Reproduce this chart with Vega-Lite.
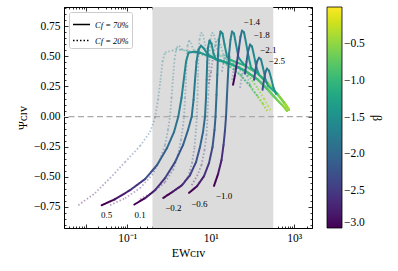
{
"$schema":"https://vega.github.io/schema/vega-lite/v6.json",
"width":248,"height":221,
"autosize":{"type":"none"},
"padding":{"left":64,"top":7,"right":86,"bottom":43},
"config":{"font":"Liberation Serif","view":{"stroke":null},
 "axis":{"grid":false,"domainColor":"black","tickColor":"black","labelColor":"black","titleColor":"black","domainWidth":0.9,"tickWidth":0.8,"labelFontSize":11.5,"titleFontSize":12,"titleFontWeight":"normal","labelFont":"Liberation Serif","titleFont":"Liberation Serif"},
 "legend":{"labelFont":"Liberation Serif","titleFont":"Liberation Serif"}},
"data":{"values":[
{"c":"0.5","f":"70%","x":0.0243,"y":-0.736,"b":-3},{"c":"0.5","f":"70%","x":0.0507,"y":-0.686,"b":-2.8},{"c":"0.5","f":"70%","x":0.116,"y":-0.611,"b":-2.55},{"c":"0.5","f":"70%","x":0.2655,"y":-0.519,"b":-2.3},{"c":"0.5","f":"70%","x":0.515,"y":-0.403,"b":-2.1},{"c":"0.5","f":"70%","x":0.895,"y":-0.261,"b":-1.95},{"c":"0.5","f":"70%","x":1.318,"y":-0.128,"b":-1.85},{"c":"0.5","f":"70%","x":1.671,"y":0,"b":-1.75},{"c":"0.5","f":"70%","x":1.995,"y":0.156,"b":-1.7},{"c":"0.5","f":"70%","x":2.291,"y":0.323,"b":-1.65},{"c":"0.5","f":"70%","x":2.559,"y":0.456,"b":-1.6},{"c":"0.5","f":"70%","x":2.938,"y":0.531,"b":-1.55},{"c":"0.5","f":"70%","x":4.198,"y":0.539,"b":-1.5},{"c":"0.5","f":"70%","x":5.534,"y":0.531,"b":-1.4},{"c":"0.5","f":"70%","x":12.68,"y":0.481,"b":-1.3},{"c":"0.5","f":"70%","x":29.04,"y":0.439,"b":-1.15},{"c":"0.5","f":"70%","x":66.53,"y":0.381,"b":-1.0},{"c":"0.5","f":"70%","x":136.1,"y":0.306,"b":-0.85},{"c":"0.5","f":"70%","x":236.6,"y":0.223,"b":-0.7},{"c":"0.5","f":"70%","x":389,"y":0.139,"b":-0.6},{"c":"0.5","f":"70%","x":542,"y":0.089,"b":-0.5},{"c":"0.5","f":"70%","x":676.1,"y":0.048,"b":-0.45},
{"c":"0.1","f":"70%","x":0.147,"y":-0.73,"b":-3},{"c":"0.1","f":"70%","x":0.2655,"y":-0.678,"b":-2.8},{"c":"0.1","f":"70%","x":0.461,"y":-0.611,"b":-2.6},{"c":"0.1","f":"70%","x":0.802,"y":-0.511,"b":-2.4},{"c":"0.1","f":"70%","x":1.393,"y":-0.378,"b":-2.2},{"c":"0.1","f":"70%","x":2.168,"y":-0.236,"b":-2.05},{"c":"0.1","f":"70%","x":2.858,"y":-0.111,"b":-1.95},{"c":"0.1","f":"70%","x":3.499,"y":0,"b":-1.85},{"c":"0.1","f":"70%","x":3.873,"y":0.139,"b":-1.8},{"c":"0.1","f":"70%","x":4.207,"y":0.306,"b":-1.75},{"c":"0.1","f":"70%","x":4.571,"y":0.456,"b":-1.7},{"c":"0.1","f":"70%","x":5.093,"y":0.556,"b":-1.65},{"c":"0.1","f":"70%","x":5.848,"y":0.589,"b":-1.6},{"c":"0.1","f":"70%","x":6.902,"y":0.564,"b":-1.55},{"c":"0.1","f":"70%","x":8.61,"y":0.514,"b":-1.45},{"c":"0.1","f":"70%","x":12.68,"y":0.481,"b":-1.3},{"c":"0.1","f":"70%","x":29.04,"y":0.439,"b":-1.15},{"c":"0.1","f":"70%","x":66.53,"y":0.381,"b":-1.0},{"c":"0.1","f":"70%","x":136.1,"y":0.306,"b":-0.85},{"c":"0.1","f":"70%","x":236.6,"y":0.223,"b":-0.7},{"c":"0.1","f":"70%","x":389,"y":0.139,"b":-0.6},{"c":"0.1","f":"70%","x":542,"y":0.089,"b":-0.5},{"c":"0.1","f":"70%","x":676.1,"y":0.048,"b":-0.45},
{"c":"-0.2","f":"70%","x":0.729,"y":-0.675,"b":-3},{"c":"-0.2","f":"70%","x":1.18,"y":-0.628,"b":-2.8},{"c":"-0.2","f":"70%","x":2.051,"y":-0.569,"b":-2.6},{"c":"-0.2","f":"70%","x":3.192,"y":-0.486,"b":-2.4},{"c":"-0.2","f":"70%","x":4.436,"y":-0.378,"b":-2.2},{"c":"-0.2","f":"70%","x":5.534,"y":-0.253,"b":-2.05},{"c":"-0.2","f":"70%","x":6.531,"y":-0.128,"b":-1.95},{"c":"-0.2","f":"70%","x":7.295,"y":0,"b":-1.85},{"c":"-0.2","f":"70%","x":7.709,"y":0.156,"b":-1.8},{"c":"-0.2","f":"70%","x":7.98,"y":0.306,"b":-1.75},{"c":"-0.2","f":"70%","x":8.24,"y":0.456,"b":-1.7},{"c":"-0.2","f":"70%","x":8.61,"y":0.573,"b":-1.65},{"c":"-0.2","f":"70%","x":9.354,"y":0.631,"b":-1.6},{"c":"-0.2","f":"70%","x":10.45,"y":0.606,"b":-1.55},{"c":"-0.2","f":"70%","x":11.67,"y":0.523,"b":-1.45},{"c":"-0.2","f":"70%","x":13.4,"y":0.473,"b":-1.35},{"c":"-0.2","f":"70%","x":29.04,"y":0.439,"b":-1.15},{"c":"-0.2","f":"70%","x":66.53,"y":0.381,"b":-1.0},{"c":"-0.2","f":"70%","x":136.1,"y":0.306,"b":-0.85},{"c":"-0.2","f":"70%","x":236.6,"y":0.223,"b":-0.7},{"c":"-0.2","f":"70%","x":389,"y":0.139,"b":-0.6},{"c":"-0.2","f":"70%","x":542,"y":0.089,"b":-0.5},{"c":"-0.2","f":"70%","x":676.1,"y":0.048,"b":-0.45},
{"c":"-0.6","f":"70%","x":3.02,"y":-0.633,"b":-3},{"c":"-0.6","f":"70%","x":4.688,"y":-0.578,"b":-2.8},{"c":"-0.6","f":"70%","x":6.902,"y":-0.494,"b":-2.6},{"c":"-0.6","f":"70%","x":9.099,"y":-0.386,"b":-2.4},{"c":"-0.6","f":"70%","x":11.04,"y":-0.253,"b":-2.2},{"c":"-0.6","f":"70%","x":12.33,"y":-0.111,"b":-2.05},{"c":"-0.6","f":"70%","x":13.03,"y":0,"b":-1.95},{"c":"-0.6","f":"70%","x":13.77,"y":0.181,"b":-1.85},{"c":"-0.6","f":"70%","x":14.39,"y":0.348,"b":-1.8},{"c":"-0.6","f":"70%","x":14.96,"y":0.514,"b":-1.75},{"c":"-0.6","f":"70%","x":15.81,"y":0.639,"b":-1.7},{"c":"-0.6","f":"70%","x":17.18,"y":0.706,"b":-1.65},{"c":"-0.6","f":"70%","x":19.19,"y":0.689,"b":-1.6},{"c":"-0.6","f":"70%","x":21.43,"y":0.598,"b":-1.5},{"c":"-0.6","f":"70%","x":24.6,"y":0.498,"b":-1.4},{"c":"-0.6","f":"70%","x":29.04,"y":0.473,"b":-1.1},{"c":"-0.6","f":"70%","x":66.53,"y":0.423,"b":-0.85},{"c":"-0.6","f":"70%","x":136.1,"y":0.356,"b":-0.65},{"c":"-0.6","f":"70%","x":236.6,"y":0.273,"b":-0.5},{"c":"-0.6","f":"70%","x":411.1,"y":0.181,"b":-0.38},{"c":"-0.6","f":"70%","x":605.3,"y":0.106,"b":-0.3},{"c":"-0.6","f":"70%","x":755.1,"y":0.056,"b":-0.25},
{"c":"-1.0","f":"70%","x":11.99,"y":-0.575,"b":-3},{"c":"-1.0","f":"70%","x":14.96,"y":-0.478,"b":-2.8},{"c":"-1.0","f":"70%","x":18.16,"y":-0.361,"b":-2.6},{"c":"-1.0","f":"70%","x":20.28,"y":-0.236,"b":-2.4},{"c":"-1.0","f":"70%","x":22.03,"y":-0.111,"b":-2.25},{"c":"-1.0","f":"70%","x":23.28,"y":0,"b":-2.1},{"c":"-1.0","f":"70%","x":24.6,"y":0.181,"b":-2.0},{"c":"-1.0","f":"70%","x":26.0,"y":0.348,"b":-1.9},{"c":"-1.0","f":"70%","x":27.48,"y":0.514,"b":-1.8},{"c":"-1.0","f":"70%","x":29.85,"y":0.639,"b":-1.7},{"c":"-1.0","f":"70%","x":32.43,"y":0.706,"b":-1.65},{"c":"-1.0","f":"70%","x":36.22,"y":0.689,"b":-1.6},{"c":"-1.0","f":"70%","x":40.46,"y":0.598,"b":-1.5},{"c":"-1.0","f":"70%","x":46.45,"y":0.489,"b":-1.4},{"c":"-1.0","f":"70%","x":66.53,"y":0.423,"b":-0.9},{"c":"-1.0","f":"70%","x":136.1,"y":0.356,"b":-0.65},{"c":"-1.0","f":"70%","x":236.6,"y":0.273,"b":-0.5},{"c":"-1.0","f":"70%","x":411.1,"y":0.181,"b":-0.38},{"c":"-1.0","f":"70%","x":605.3,"y":0.106,"b":-0.3},{"c":"-1.0","f":"70%","x":755.1,"y":0.056,"b":-0.25},
{"c":"-1.4","f":"70%","x":34.28,"y":0.264,"b":-3},{"c":"-1.4","f":"70%","x":38.28,"y":0.348,"b":-2.7},{"c":"-1.4","f":"70%","x":42.76,"y":0.456,"b":-2.4},{"c":"-1.4","f":"70%","x":47.75,"y":0.573,"b":-2.1},{"c":"-1.4","f":"70%","x":51.88,"y":0.664,"b":-1.9},{"c":"-1.4","f":"70%","x":56.36,"y":0.714,"b":-1.75},{"c":"-1.4","f":"70%","x":62.95,"y":0.698,"b":-1.65},{"c":"-1.4","f":"70%","x":70.31,"y":0.614,"b":-1.55},{"c":"-1.4","f":"70%","x":80.72,"y":0.498,"b":-1.45},{"c":"-1.4","f":"70%","x":92.68,"y":0.406,"b":-1.3},{"c":"-1.4","f":"70%","x":136.1,"y":0.356,"b":-0.7},{"c":"-1.4","f":"70%","x":236.6,"y":0.273,"b":-0.5},{"c":"-1.4","f":"70%","x":411.1,"y":0.181,"b":-0.38},{"c":"-1.4","f":"70%","x":605.3,"y":0.106,"b":-0.3},{"c":"-1.4","f":"70%","x":755.1,"y":0.056,"b":-0.25},
{"c":"-1.8","f":"70%","x":66.53,"y":0.356,"b":-2.3},{"c":"-1.8","f":"70%","x":72.28,"y":0.456,"b":-2.1},{"c":"-1.8","f":"70%","x":78.52,"y":0.539,"b":-1.9},{"c":"-1.8","f":"70%","x":87.7,"y":0.598,"b":-1.75},{"c":"-1.8","f":"70%","x":97.95,"y":0.581,"b":-1.65},{"c":"-1.8","f":"70%","x":109.4,"y":0.506,"b":-1.55},{"c":"-1.8","f":"70%","x":125.3,"y":0.406,"b":-1.4},{"c":"-1.8","f":"70%","x":143.9,"y":0.348,"b":-1.2},{"c":"-1.8","f":"70%","x":236.6,"y":0.273,"b":-0.55},{"c":"-1.8","f":"70%","x":411.1,"y":0.181,"b":-0.4},{"c":"-1.8","f":"70%","x":605.3,"y":0.106,"b":-0.3},{"c":"-1.8","f":"70%","x":755.1,"y":0.056,"b":-0.25},
{"c":"-2.1","f":"70%","x":109.4,"y":0.306,"b":-2.3},{"c":"-2.1","f":"70%","x":118.6,"y":0.389,"b":-2.1},{"c":"-2.1","f":"70%","x":128.8,"y":0.456,"b":-1.9},{"c":"-2.1","f":"70%","x":143.9,"y":0.489,"b":-1.75},{"c":"-2.1","f":"70%","x":160.7,"y":0.473,"b":-1.65},{"c":"-2.1","f":"70%","x":179.5,"y":0.406,"b":-1.55},{"c":"-2.1","f":"70%","x":206.1,"y":0.306,"b":-1.4},{"c":"-2.1","f":"70%","x":236.6,"y":0.256,"b":-1.2},{"c":"-2.1","f":"70%","x":411.1,"y":0.181,"b":-0.45},{"c":"-2.1","f":"70%","x":605.3,"y":0.106,"b":-0.3},{"c":"-2.1","f":"70%","x":755.1,"y":0.056,"b":-0.25},
{"c":"-2.5","f":"70%","x":174.6,"y":0.223,"b":-2.3},{"c":"-2.5","f":"70%","x":189.7,"y":0.306,"b":-2.1},{"c":"-2.5","f":"70%","x":206.1,"y":0.373,"b":-1.9},{"c":"-2.5","f":"70%","x":223.9,"y":0.398,"b":-1.75},{"c":"-2.5","f":"70%","x":250,"y":0.381,"b":-1.65},{"c":"-2.5","f":"70%","x":279.3,"y":0.323,"b":-1.55},{"c":"-2.5","f":"70%","x":320.6,"y":0.239,"b":-1.4},{"c":"-2.5","f":"70%","x":368.1,"y":0.189,"b":-1.2},{"c":"-2.5","f":"70%","x":411.1,"y":0.181,"b":-0.6},{"c":"-2.5","f":"70%","x":605.3,"y":0.106,"b":-0.45},{"c":"-2.5","f":"70%","x":755.1,"y":0.056,"b":-0.35},
{"c":"0.5","f":"20%","x":0.00668,"y":-0.736,"b":-3},{"c":"0.5","f":"20%","x":0.01679,"y":-0.636,"b":-2.8},{"c":"0.5","f":"20%","x":0.03846,"y":-0.511,"b":-2.55},{"c":"0.5","f":"20%","x":0.0881,"y":-0.378,"b":-2.3},{"c":"0.5","f":"20%","x":0.2018,"y":-0.244,"b":-2.1},{"c":"0.5","f":"20%","x":0.3499,"y":-0.128,"b":-1.95},{"c":"0.5","f":"20%","x":0.4613,"y":-0.011,"b":-1.85},{"c":"0.5","f":"20%","x":0.5445,"y":0.139,"b":-1.75},{"c":"0.5","f":"20%","x":0.6252,"y":0.306,"b":-1.7},{"c":"0.5","f":"20%","x":0.6982,"y":0.456,"b":-1.65},{"c":"0.5","f":"20%","x":0.8017,"y":0.531,"b":-1.6},{"c":"0.5","f":"20%","x":1.18,"y":0.548,"b":-1.55},{"c":"0.5","f":"20%","x":1.837,"y":0.556,"b":-1.45},{"c":"0.5","f":"20%","x":4.198,"y":0.531,"b":-1.3},{"c":"0.5","f":"20%","x":9.616,"y":0.498,"b":-1.15},{"c":"0.5","f":"20%","x":16.71,"y":0.464,"b":-1.05},{"c":"0.5","f":"20%","x":29.04,"y":0.414,"b":-0.95},{"c":"0.5","f":"20%","x":50.47,"y":0.348,"b":-0.8},{"c":"0.5","f":"20%","x":87.7,"y":0.256,"b":-0.65},{"c":"0.5","f":"20%","x":136.1,"y":0.164,"b":-0.5},{"c":"0.5","f":"20%","x":179.5,"y":0.106,"b":-0.4},{"c":"0.5","f":"20%","x":223.9,"y":0.048,"b":-0.3},
{"c":"0.1","f":"20%","x":0.03846,"y":-0.736,"b":-3},{"c":"0.1","f":"20%","x":0.0881,"y":-0.678,"b":-2.8},{"c":"0.1","f":"20%","x":0.2018,"y":-0.594,"b":-2.6},{"c":"0.1","f":"20%","x":0.3908,"y":-0.486,"b":-2.4},{"c":"0.1","f":"20%","x":0.6081,"y":-0.361,"b":-2.2},{"c":"0.1","f":"20%","x":0.8017,"y":-0.236,"b":-2.05},{"c":"0.1","f":"20%","x":0.9463,"y":-0.111,"b":-1.95},{"c":"0.1","f":"20%","x":1.057,"y":0,"b":-1.85},{"c":"0.1","f":"20%","x":1.148,"y":0.156,"b":-1.8},{"c":"0.1","f":"20%","x":1.247,"y":0.323,"b":-1.75},{"c":"0.1","f":"20%","x":1.355,"y":0.473,"b":-1.7},{"c":"0.1","f":"20%","x":1.514,"y":0.573,"b":-1.65},{"c":"0.1","f":"20%","x":1.738,"y":0.589,"b":-1.6},{"c":"0.1","f":"20%","x":2.051,"y":0.556,"b":-1.5},{"c":"0.1","f":"20%","x":4.198,"y":0.531,"b":-1.3},{"c":"0.1","f":"20%","x":9.616,"y":0.498,"b":-1.15},{"c":"0.1","f":"20%","x":16.71,"y":0.464,"b":-1.05},{"c":"0.1","f":"20%","x":29.04,"y":0.414,"b":-0.95},{"c":"0.1","f":"20%","x":50.47,"y":0.348,"b":-0.8},{"c":"0.1","f":"20%","x":87.7,"y":0.256,"b":-0.65},{"c":"0.1","f":"20%","x":136.1,"y":0.164,"b":-0.5},{"c":"0.1","f":"20%","x":179.5,"y":0.106,"b":-0.4},{"c":"0.1","f":"20%","x":223.9,"y":0.048,"b":-0.3},
{"c":"-0.2","f":"20%","x":0.2018,"y":-0.686,"b":-3},{"c":"-0.2","f":"20%","x":0.413,"y":-0.628,"b":-2.8},{"c":"-0.2","f":"20%","x":0.8017,"y":-0.544,"b":-2.6},{"c":"-0.2","f":"20%","x":1.247,"y":-0.444,"b":-2.4},{"c":"-0.2","f":"20%","x":1.644,"y":-0.319,"b":-2.2},{"c":"-0.2","f":"20%","x":1.941,"y":-0.194,"b":-2.05},{"c":"-0.2","f":"20%","x":2.168,"y":-0.078,"b":-1.95},{"c":"-0.2","f":"20%","x":2.291,"y":0,"b":-1.9},{"c":"-0.2","f":"20%","x":2.421,"y":0.156,"b":-1.85},{"c":"-0.2","f":"20%","x":2.559,"y":0.323,"b":-1.8},{"c":"-0.2","f":"20%","x":2.673,"y":0.489,"b":-1.75},{"c":"-0.2","f":"20%","x":2.78,"y":0.589,"b":-1.7},{"c":"-0.2","f":"20%","x":3.02,"y":0.631,"b":-1.65},{"c":"-0.2","f":"20%","x":3.373,"y":0.614,"b":-1.6},{"c":"-0.2","f":"20%","x":3.767,"y":0.556,"b":-1.5},{"c":"-0.2","f":"20%","x":9.616,"y":0.498,"b":-1.15},{"c":"-0.2","f":"20%","x":16.71,"y":0.464,"b":-1.05},{"c":"-0.2","f":"20%","x":29.04,"y":0.414,"b":-0.95},{"c":"-0.2","f":"20%","x":50.47,"y":0.348,"b":-0.8},{"c":"-0.2","f":"20%","x":87.7,"y":0.256,"b":-0.65},{"c":"-0.2","f":"20%","x":136.1,"y":0.164,"b":-0.5},{"c":"-0.2","f":"20%","x":179.5,"y":0.106,"b":-0.4},{"c":"-0.2","f":"20%","x":223.9,"y":0.048,"b":-0.3},
{"c":"-0.6","f":"20%","x":0.881,"y":-0.653,"b":-3},{"c":"-0.6","f":"20%","x":1.837,"y":-0.586,"b":-2.8},{"c":"-0.6","f":"20%","x":2.858,"y":-0.503,"b":-2.6},{"c":"-0.6","f":"20%","x":3.565,"y":-0.386,"b":-2.4},{"c":"-0.6","f":"20%","x":4.093,"y":-0.253,"b":-2.2},{"c":"-0.6","f":"20%","x":4.436,"y":-0.111,"b":-2.05},{"c":"-0.6","f":"20%","x":4.645,"y":0,"b":-1.95},{"c":"-0.6","f":"20%","x":4.822,"y":0.181,"b":-1.85},{"c":"-0.6","f":"20%","x":4.955,"y":0.348,"b":-1.8},{"c":"-0.6","f":"20%","x":5.093,"y":0.514,"b":-1.75},{"c":"-0.6","f":"20%","x":5.383,"y":0.639,"b":-1.7},{"c":"-0.6","f":"20%","x":5.848,"y":0.698,"b":-1.65},{"c":"-0.6","f":"20%","x":6.531,"y":0.681,"b":-1.6},{"c":"-0.6","f":"20%","x":7.295,"y":0.598,"b":-1.5},{"c":"-0.6","f":"20%","x":8.61,"y":0.506,"b":-1.4},{"c":"-0.6","f":"20%","x":16.71,"y":0.506,"b":-1.0},{"c":"-0.6","f":"20%","x":29.04,"y":0.464,"b":-0.9},{"c":"-0.6","f":"20%","x":50.47,"y":0.406,"b":-0.75},{"c":"-0.6","f":"20%","x":87.7,"y":0.323,"b":-0.6},{"c":"-0.6","f":"20%","x":136.1,"y":0.231,"b":-0.45},{"c":"-0.6","f":"20%","x":189.7,"y":0.148,"b":-0.35},{"c":"-0.6","f":"20%","x":236.6,"y":0.089,"b":-0.3},{"c":"-0.6","f":"20%","x":279.3,"y":0.039,"b":-0.25},
{"c":"-1.0","f":"20%","x":3.499,"y":-0.569,"b":-3},{"c":"-1.0","f":"20%","x":4.688,"y":-0.494,"b":-2.8},{"c":"-1.0","f":"20%","x":6.012,"y":-0.403,"b":-2.6},{"c":"-1.0","f":"20%","x":7.096,"y":-0.278,"b":-2.4},{"c":"-1.0","f":"20%","x":7.925,"y":-0.153,"b":-2.25},{"c":"-1.0","f":"20%","x":8.375,"y":0,"b":-2.1},{"c":"-1.0","f":"20%","x":8.75,"y":0.181,"b":-2.0},{"c":"-1.0","f":"20%","x":9.099,"y":0.348,"b":-1.9},{"c":"-1.0","f":"20%","x":9.354,"y":0.514,"b":-1.8},{"c":"-1.0","f":"20%","x":9.886,"y":0.639,"b":-1.7},{"c":"-1.0","f":"20%","x":10.74,"y":0.698,"b":-1.65},{"c":"-1.0","f":"20%","x":11.99,"y":0.681,"b":-1.6},{"c":"-1.0","f":"20%","x":13.4,"y":0.598,"b":-1.5},{"c":"-1.0","f":"20%","x":15.38,"y":0.523,"b":-1.4},{"c":"-1.0","f":"20%","x":29.04,"y":0.464,"b":-0.9},{"c":"-1.0","f":"20%","x":50.47,"y":0.406,"b":-0.75},{"c":"-1.0","f":"20%","x":87.7,"y":0.323,"b":-0.6},{"c":"-1.0","f":"20%","x":136.1,"y":0.231,"b":-0.45},{"c":"-1.0","f":"20%","x":189.7,"y":0.148,"b":-0.35},{"c":"-1.0","f":"20%","x":236.6,"y":0.089,"b":-0.3},{"c":"-1.0","f":"20%","x":279.3,"y":0.039,"b":-0.25},
{"c":"-1.4","f":"20%","x":9.099,"y":0.273,"b":-3},{"c":"-1.4","f":"20%","x":10.16,"y":0.373,"b":-2.6},{"c":"-1.4","f":"20%","x":11.35,"y":0.489,"b":-2.2},{"c":"-1.4","f":"20%","x":12.68,"y":0.589,"b":-1.9},{"c":"-1.4","f":"20%","x":14.16,"y":0.639,"b":-1.75},{"c":"-1.4","f":"20%","x":15.81,"y":0.631,"b":-1.65},{"c":"-1.4","f":"20%","x":17.66,"y":0.581,"b":-1.55},{"c":"-1.4","f":"20%","x":20.28,"y":0.514,"b":-1.45},{"c":"-1.4","f":"20%","x":23.28,"y":0.473,"b":-1.3},{"c":"-1.4","f":"20%","x":29.04,"y":0.464,"b":-0.9},{"c":"-1.4","f":"20%","x":50.47,"y":0.406,"b":-0.75},{"c":"-1.4","f":"20%","x":87.7,"y":0.323,"b":-0.6},{"c":"-1.4","f":"20%","x":136.1,"y":0.231,"b":-0.45},{"c":"-1.4","f":"20%","x":189.7,"y":0.148,"b":-0.35},{"c":"-1.4","f":"20%","x":236.6,"y":0.089,"b":-0.3},{"c":"-1.4","f":"20%","x":279.3,"y":0.039,"b":-0.25},
{"c":"-1.8","f":"20%","x":18.66,"y":0.373,"b":-2.3},{"c":"-1.8","f":"20%","x":20.84,"y":0.473,"b":-2.0},{"c":"-1.8","f":"20%","x":23.28,"y":0.523,"b":-1.8},{"c":"-1.8","f":"20%","x":26.0,"y":0.531,"b":-1.7},{"c":"-1.8","f":"20%","x":29.04,"y":0.498,"b":-1.6},{"c":"-1.8","f":"20%","x":33.34,"y":0.431,"b":-1.45},{"c":"-1.8","f":"20%","x":38.28,"y":0.389,"b":-1.3},{"c":"-1.8","f":"20%","x":50.47,"y":0.348,"b":-0.8},{"c":"-1.8","f":"20%","x":87.7,"y":0.256,"b":-0.65},{"c":"-1.8","f":"20%","x":136.1,"y":0.164,"b":-0.5},{"c":"-1.8","f":"20%","x":179.5,"y":0.106,"b":-0.4},{"c":"-1.8","f":"20%","x":223.9,"y":0.048,"b":-0.3},
{"c":"-2.1","f":"20%","x":32.43,"y":0.306,"b":-2.3},{"c":"-2.1","f":"20%","x":35.24,"y":0.389,"b":-2.0},{"c":"-2.1","f":"20%","x":38.28,"y":0.439,"b":-1.8},{"c":"-2.1","f":"20%","x":42.76,"y":0.448,"b":-1.7},{"c":"-2.1","f":"20%","x":47.75,"y":0.414,"b":-1.6},{"c":"-2.1","f":"20%","x":54.83,"y":0.348,"b":-1.45},{"c":"-2.1","f":"20%","x":62.95,"y":0.306,"b":-1.3},{"c":"-2.1","f":"20%","x":87.7,"y":0.256,"b":-0.65},{"c":"-2.1","f":"20%","x":136.1,"y":0.164,"b":-0.5},{"c":"-2.1","f":"20%","x":179.5,"y":0.106,"b":-0.4},{"c":"-2.1","f":"20%","x":223.9,"y":0.048,"b":-0.3},
{"c":"-2.5","f":"20%","x":50.47,"y":0.239,"b":-2.3},{"c":"-2.5","f":"20%","x":54.83,"y":0.323,"b":-2.0},{"c":"-2.5","f":"20%","x":59.57,"y":0.364,"b":-1.8},{"c":"-2.5","f":"20%","x":66.53,"y":0.373,"b":-1.7},{"c":"-2.5","f":"20%","x":74.3,"y":0.339,"b":-1.6},{"c":"-2.5","f":"20%","x":85.31,"y":0.273,"b":-1.45},{"c":"-2.5","f":"20%","x":97.95,"y":0.223,"b":-1.3},{"c":"-2.5","f":"20%","x":136.1,"y":0.164,"b":-0.5},{"c":"-2.5","f":"20%","x":179.5,"y":0.106,"b":-0.4},{"c":"-2.5","f":"20%","x":223.9,"y":0.048,"b":-0.3}
]},
"layer":[
{"data":{"values":[{"a":0.4,"e":316}]},
 "mark":{"type":"rect","color":"#dcdcdc"},
 "encoding":{"x":{"field":"a","type":"quantitative","scale":{"type":"log","domain":[0.00303,2685],"nice":false},
   "axis":{"orient":"bottom","values":[0.01,0.1,1,10,100,1000],"labelExpr":"datum.value==0.1?'10⁻¹':datum.value==10?'10¹':datum.value==1000?'10³':''","tickSize":-4,"labelPadding":8,"labelFlush":false,"labelOverlap":false,"title":"EWᴄɪᴠ","titlePadding":4}},
  "x2":{"field":"e"}}},
{"data":{"values":[{"z":0}]},
 "mark":{"type":"rule","color":"#aaaaaa","strokeDash":[6,3.5],"strokeWidth":1.4},
 "encoding":{"y":{"field":"z","type":"quantitative","scale":{"domain":[-0.925,0.91],"nice":false,"zero":false},
   "axis":{"orient":"left","values":[-0.75,-0.5,-0.25,0,0.25,0.5,0.75],"format":".2f","tickSize":-4,"labelPadding":8,"labelFlush":false,"labelOverlap":false,"title":"Ψᴄɪᴠ","titlePadding":4}}}},
{"transform":[{"filter":"datum.f=='20%'"},{"window":[{"op":"lead","field":"x","as":"x2"},{"op":"lead","field":"y","as":"y2"}],"groupby":["c","f"]},{"filter":"isValid(datum.x2)"}],
 "mark":{"type":"rule","strokeWidth":1.8,"strokeOpacity":0.38,"clip":true},
 "encoding":{"x":{"field":"x","type":"quantitative","scale":{"type":"log","domain":[0.00303,2685],"nice":false},"axis":null},"x2":{"field":"x2"},
  "y":{"field":"y","type":"quantitative","scale":{"domain":[-0.925,0.91],"nice":false,"zero":false},"axis":null},"y2":{"field":"y2"},
  "color":{"field":"b","type":"quantitative","scale":{"scheme":"viridis","domain":[-3,0]},"legend":{"orient":"right","direction":"vertical","gradientLength":221,"gradientThickness":15,"values":[-3,-2.5,-2,-1.5,-1,-0.5],"format":".1f","title":"β","titleOrient":"right","titleAngle":270,"titleAnchor":"middle","titleFontSize":12,"titleFontWeight":"normal","labelFontSize":11.5,"offset":14,"gradientStrokeColor":"black","gradientStrokeWidth":0.8,"labelOverlap":false}},
  "strokeDash":{"field":"f","type":"nominal","scale":{"domain":["70%","20%"],"range":[[1,0],[1.5,2]]},"legend":{"orient":"top-left","title":null,"symbolType":"stroke","symbolStrokeColor":"black","symbolStrokeWidth":1.5,"symbolSize":290,"symbolOpacity":1,"labelExpr":"'Cf = ' + datum.label","labelFontStyle":"italic","labelFontSize":8.5,"strokeColor":"#cccccc","fillColor":"white","padding":3,"offset":5,"rowPadding":2,"cornerRadius":2}}}},
{"transform":[{"filter":"datum.f=='70%'"},{"window":[{"op":"lead","field":"x","as":"x2"},{"op":"lead","field":"y","as":"y2"}],"groupby":["c","f"]},{"filter":"isValid(datum.x2)"}],
 "mark":{"type":"rule","strokeWidth":2,"strokeCap":"round","clip":true},
 "encoding":{"x":{"field":"x","type":"quantitative","scale":{"type":"log","domain":[0.00303,2685],"nice":false},"axis":null},"x2":{"field":"x2"},
  "y":{"field":"y","type":"quantitative","scale":{"domain":[-0.925,0.91],"nice":false,"zero":false},"axis":null},"y2":{"field":"y2"},
  "color":{"field":"b","type":"quantitative","scale":{"scheme":"viridis","domain":[-3,0]},"legend":{"orient":"right","direction":"vertical","gradientLength":221,"gradientThickness":15,"values":[-3,-2.5,-2,-1.5,-1,-0.5],"format":".1f","title":"β","titleOrient":"right","titleAngle":270,"titleAnchor":"middle","titleFontSize":12,"titleFontWeight":"normal","labelFontSize":11.5,"offset":14,"gradientStrokeColor":"black","gradientStrokeWidth":0.8,"labelOverlap":false}},
  "strokeDash":{"field":"f","type":"nominal","scale":{"domain":["70%","20%"],"range":[[1,0],[1.5,2]]},"legend":{"orient":"top-left","title":null,"symbolType":"stroke","symbolStrokeColor":"black","symbolStrokeWidth":1.5,"symbolSize":290,"symbolOpacity":1,"labelExpr":"'Cf = ' + datum.label","labelFontStyle":"italic","labelFontSize":8.5,"strokeColor":"#cccccc","fillColor":"white","padding":3,"offset":5,"rowPadding":2,"cornerRadius":2}}}},
{"data":{"values":[{"t":"0.5","x":0.0321,"y":-0.819},{"t":"0.1","x":0.2018,"y":-0.819},{"t":"−0.2","x":1.268,"y":-0.763},{"t":"−0.6","x":5.33,"y":-0.722},{"t":"−1.0","x":20.8,"y":-0.661},{"t":"−1.4","x":96.2,"y":0.783},{"t":"−1.8","x":167,"y":0.681},{"t":"−2.1","x":240,"y":0.556},{"t":"−2.5","x":383,"y":0.458}]},
 "mark":{"type":"text","fontSize":9,"color":"black","font":"Liberation Serif"},
 "encoding":{"x":{"field":"x","type":"quantitative","scale":{"type":"log","domain":[0.00303,2685],"nice":false},"axis":null},
  "y":{"field":"y","type":"quantitative","scale":{"domain":[-0.925,0.91],"nice":false,"zero":false},"axis":null},"text":{"field":"t"}}},
{"data":{"values":[{"p":1,"q":0}]},"mark":{"type":"point","opacity":0},
 "encoding":{"x":{"field":"p","type":"quantitative","scale":{"type":"log","domain":[0.00303,2685],"nice":false},"axis":{"orient":"top","values":[0.01,0.1,1,10,100,1000],"labels":false,"tickSize":-4,"title":null}},
  "y":{"field":"q","type":"quantitative","scale":{"domain":[-0.925,0.91],"nice":false,"zero":false},"axis":{"orient":"right","values":[-0.75,-0.5,-0.25,0,0.25,0.5,0.75],"labels":false,"tickSize":-4,"title":null}}}},
{"data":{"values":[{"p":1,"q":0}]},"mark":{"type":"point","opacity":0},
 "encoding":{"x":{"field":"p","type":"quantitative","scale":{"type":"log","domain":[0.00303,2685],"nice":false},"axis":{"orient":"top","values":[0.004,0.005,0.006,0.007,0.008,0.009,0.02,0.03,0.04,0.05,0.06,0.07,0.08,0.09,0.2,0.3,0.4,0.5,0.6,0.7,0.8,0.9,2,3,4,5,6,7,8,9,20,30,40,50,60,70,80,90,200,300,400,500,600,700,800,900,2000],"labels":false,"tickSize":-2,"title":null}},
  "y":{"field":"q","type":"quantitative","scale":{"domain":[-0.925,0.91],"nice":false,"zero":false},"axis":{"orient":"right","values":[-0.9,-0.85,-0.8,-0.7,-0.65,-0.6,-0.55,-0.45,-0.4,-0.35,-0.3,-0.2,-0.15,-0.1,-0.05,0.05,0.1,0.15,0.2,0.3,0.35,0.4,0.45,0.55,0.6,0.65,0.7,0.8,0.85,0.9],"labels":false,"tickSize":-2,"title":null}}}},
{"data":{"values":[{"p":1,"q":0}]},"mark":{"type":"point","opacity":0},
 "encoding":{"x":{"field":"p","type":"quantitative","scale":{"type":"log","domain":[0.00303,2685],"nice":false},"axis":{"orient":"bottom","values":[0.004,0.005,0.006,0.007,0.008,0.009,0.02,0.03,0.04,0.05,0.06,0.07,0.08,0.09,0.2,0.3,0.4,0.5,0.6,0.7,0.8,0.9,2,3,4,5,6,7,8,9,20,30,40,50,60,70,80,90,200,300,400,500,600,700,800,900,2000],"labels":false,"tickSize":-2,"title":null}},
  "y":{"field":"q","type":"quantitative","scale":{"domain":[-0.925,0.91],"nice":false,"zero":false},"axis":{"orient":"left","values":[-0.9,-0.85,-0.8,-0.7,-0.65,-0.6,-0.55,-0.45,-0.4,-0.35,-0.3,-0.2,-0.15,-0.1,-0.05,0.05,0.1,0.15,0.2,0.3,0.35,0.4,0.45,0.55,0.6,0.65,0.7,0.8,0.85,0.9],"labels":false,"tickSize":-2,"title":null}}}}
],
"resolve":{"axis":{"x":"independent","y":"independent"}}
}
